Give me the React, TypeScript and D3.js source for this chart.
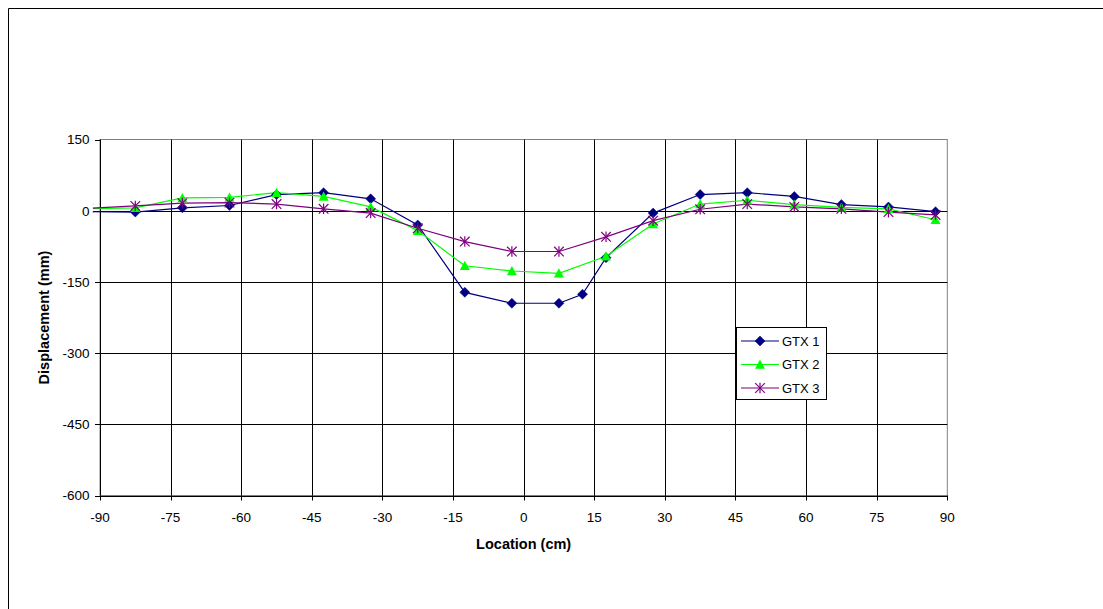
import React from "react";
import * as d3 from "d3";

const locations = [-92.5, -82.5, -72.5, -62.5, -52.5, -42.5, -32.5, -22.5, -12.5, -2.5, 7.5, 12.5, 17.5, 27.5, 37.5, 47.5, 57.5, 67.5, 77.5, 87.5];
const gtx1 = [-2, -3, 6, 11, 34, 38, 25, -30, -172, -195, -195, -176, -99, -5, 34, 38, 30, 13, 8, -2];
const gtx2Locations = [-92.5, -82.5, -72.5, -62.5, -52.5, -42.5, -32.5, -22.5, -12.5, -2.5, 7.5, 17.5, 27.5, 37.5, 47.5, 57.5, 67.5, 77.5, 87.5];
const gtx2 = [4, 6, 27, 28, 38, 30, 8, -42, -116, -127, -132, -96, -28, 14, 22, 13, 7, 4, -19];
const gtx3 = [5, 10, 16, 17, 14, 4, -5, -37, -65, -86, -86, -55, -21, 3, 14, 8, 4, -3, -9];

const xTicks = [-90, -75, -60, -45, -30, -15, 0, 15, 30, 45, 60, 75, 90];
const yTicks = [150, 0, -150, -300, -450, -600];
const seriesNames = ["GTX 1", "GTX 2", "GTX 3"];
const colors = ["#000080", "#00FF00", "#800080"];

const X0 = 100, X1 = 947.3, Y0 = 139.5, Y1 = 495.5;

function Marker({ kind, x, y, color }: { kind: number; x: number; y: number; color: string }) {
  if (kind === 0) {
    const r = 5;
    return <path d={`M${x},${y - r}L${x + r},${y}L${x},${y + r}L${x - r},${y}Z`} fill={color} stroke={color} strokeWidth={0.5} />;
  }
  if (kind === 1) {
    const r = 5;
    return <path d={`M${x},${y - r}L${x + r},${y + r * 0.85}L${x - r},${y + r * 0.85}Z`} fill={color} />;
  }
  const r = 4.8;
  return (
    <g stroke={color} strokeWidth={1.2}>
      <line x1={x - r} y1={y - r} x2={x + r} y2={y + r} />
      <line x1={x - r} y1={y + r} x2={x + r} y2={y - r} />
      <line x1={x} y1={y - r - 0.5} x2={x} y2={y + r + 0.5} />
    </g>
  );
}

export default function App() {
  const x = d3.scaleLinear().domain([-90, 90]).range([X0, X1]);
  const y = d3.scaleLinear().domain([-600, 150]).range([Y1, Y0]);
  const line = d3.line<[number, number]>().x((d) => x(d[0])).y((d) => y(d[1]));

  const series: [number, number][][] = [
    locations.map((l, i) => [l, gtx1[i]] as [number, number]),
    gtx2Locations.map((l, i) => [l, gtx2[i]] as [number, number]),
    gtx2Locations.map((l, i) => [l, gtx3[i]] as [number, number]),
  ];

  const font = "'Liberation Sans', Arial, sans-serif";
  const clipLeft = x(-91.5);

  return (
    <svg width={1103} height={609} style={{ position: "absolute", left: 0, top: 0 }} fontFamily={font}>
      <rect x={0} y={0} width={1103} height={609} fill="#fff" />
      <line x1={8.5} y1={8.5} x2={1103} y2={8.5} stroke="#000" />
      <line x1={8.5} y1={8.5} x2={8.5} y2={609} stroke="#000" />
      <defs>
        <clipPath id="plotclip">
          <rect x={clipLeft} y={Y0 - 10} width={X1 + 20 - clipLeft} height={Y1 - Y0 + 20} />
        </clipPath>
      </defs>
      {/* plot area border */}
      <rect x={X0} y={Y0} width={X1 - X0} height={Y1 - Y0} fill="none" stroke="#808080" />
      {/* gridlines */}
      {xTicks.slice(1, -1).map((t) => (
        <line key={"gx" + t} x1={Math.round(x(t)) + 0.5} x2={Math.round(x(t)) + 0.5} y1={Y0} y2={Y1} stroke="#000" />
      ))}
      {yTicks.slice(1, -1).map((t) => (
        <line key={"gy" + t} x1={X0} x2={X1} y1={Math.round(y(t)) + 0.5} y2={Math.round(y(t)) + 0.5} stroke="#000" />
      ))}
      {/* axes */}
      <line x1={Math.round(X0) + 0.5} x2={Math.round(X0) + 0.5} y1={Y0} y2={Y1} stroke="#000" />
      <line x1={X0} x2={X1} y1={Math.round(Y1) + 0.5} y2={Math.round(Y1) + 0.5} stroke="#000" />
      {yTicks.map((t) => (
        <g key={"yt" + t}>
          <line x1={X0 - 5} x2={X0} y1={Math.round(y(t)) + 0.5} y2={Math.round(y(t)) + 0.5} stroke="#000" />
          <text x={X0 - 10.5} y={y(t)} dy="0.36em" textAnchor="end" fontSize={13.5}>{t}</text>
        </g>
      ))}
      {xTicks.map((t) => (
        <g key={"xt" + t}>
          <line x1={Math.round(x(t)) + 0.5} x2={Math.round(x(t)) + 0.5} y1={Y1} y2={Y1 + 5} stroke="#000" />
          <text x={x(t)} y={Y1 + 26} textAnchor="middle" fontSize={13.5}>{t}</text>
        </g>
      ))}
      <text x={x(0)} y={548.5} textAnchor="middle" fontSize={14.5} fontWeight="bold">Location (cm)</text>
      <text transform={`translate(49,${(Y0 + Y1) / 2}) rotate(-90)`} textAnchor="middle" fontSize={14.5} fontWeight="bold">Displacement (mm)</text>
      {/* series */}
      <g clipPath="url(#plotclip)">
        {series.map((s, i) => (
          <path key={"l" + i} d={line(s) || ""} fill="none" stroke={colors[i]} strokeWidth={1.2} />
        ))}
        {series.map((s, i) => (
          <g key={"m" + i}>
            {s.map((d, j) => (
              <Marker key={j} kind={i} x={x(d[0])} y={y(d[1])} color={colors[i]} />
            ))}
          </g>
        ))}
      </g>
      {/* legend */}
      <rect x={736.5} y={327.5} width={90} height={72} fill="#fff" stroke="#000" />
      {seriesNames.map((n, i) => {
        const ly = 341 + i * 23.5;
        return (
          <g key={n}>
            <line x1={741} x2={779} y1={ly} y2={ly} stroke={colors[i]} strokeWidth={1.2} />
            <Marker kind={i} x={760} y={ly} color={colors[i]} />
            <text x={782} y={ly} dy="0.36em" fontSize={13}>{n}</text>
          </g>
        );
      })}
    </svg>
  );
}
